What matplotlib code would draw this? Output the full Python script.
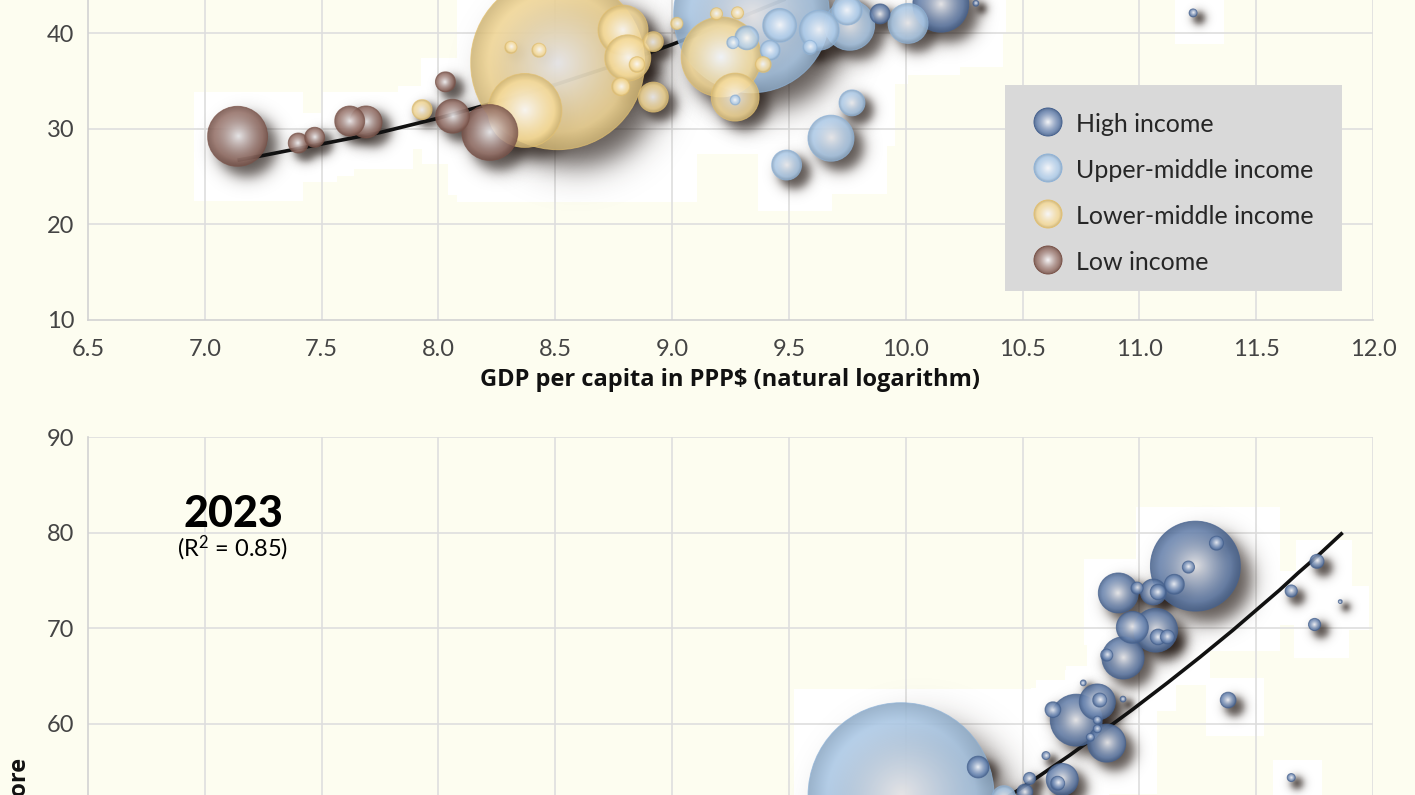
import numpy as np
import matplotlib
matplotlib.use("Agg")
import matplotlib.pyplot as plt
from matplotlib.patches import Ellipse, Circle, Rectangle

# ---- data --------------------------------------------------------------
# top panel: x = ln GDP per capita (PPP$), y = score, pop = bubble size (millions)
top_low_x = [7.14, 7.40, 7.47, 7.62, 7.69, 8.03, 8.06, 8.22]
top_low_y = [29.2, 28.5, 29.1, 30.8, 30.7, 34.9, 31.3, 29.6]
top_low_pop = [144, 16, 16, 36, 41, 16, 46, 125]

top_lmid_x = [8.51, 8.37, 7.93, 8.31, 8.43, 8.79, 8.81, 8.92, 8.85, 8.78, 8.92, 9.02,
              9.21, 9.27, 9.39, 9.19, 9.28]
top_lmid_y = [36.9, 31.9, 32.0, 38.5, 38.2, 40.3, 37.4, 39.1, 36.7, 34.4, 33.3, 41.0,
              37.5, 33.3, 36.7, 42.0, 42.1]
top_lmid_pop = [1211, 219, 16, 6, 8, 100, 85, 16, 10, 13, 36, 6, 256, 92, 10, 6, 6]

top_umid_x = [9.34, 9.49, 9.68, 9.77, 9.46, 9.63, 9.75, 9.59, 9.32, 9.42, 9.26, 9.76,
              10.01, 9.27]
top_umid_y = [41.9, 26.2, 29.0, 32.7, 40.8, 40.3, 42.4, 38.5, 39.5, 38.2, 39.0, 40.8,
              41.0, 33.0]
top_umid_pop = [973, 36, 85, 27, 46, 64, 36, 8, 23, 16, 6, 100, 64, 4]

top_high_x = [9.89, 10.15, 10.30, 11.23]
top_high_y = [42.0, 43.0, 43.1, 42.1]
top_high_pop = [16, 125, 1.4, 2.6]

top_trend_x = [7.14, 7.25, 7.5, 7.75, 8.0, 8.25, 8.5, 8.75, 9.0, 9.25, 9.5, 10.0]
top_trend_y = [26.7, 27.2, 28.4, 29.6, 31.1, 32.8, 34.6, 36.6, 38.8, 41.2, 43.7, 49.3]

# bottom panel (2023)
bot_high_x = [11.24, 11.33, 11.21, 11.15, 10.91, 10.99, 11.06, 11.08, 10.97, 11.07,
              11.08, 11.12, 10.93, 10.86, 10.73, 10.63, 10.82, 10.83, 10.76, 10.93,
              10.86, 10.82, 10.82, 10.79, 10.60, 10.67, 10.65, 10.53, 10.51, 11.38,
              11.76, 11.65, 11.86, 11.75, 11.65, 10.31]
bot_high_y = [76.5, 78.9, 76.4, 74.6, 73.7, 74.2, 73.8, 73.8, 70.1, 69.8,
              69.1, 69.1, 66.9, 67.2, 60.4, 61.5, 62.3, 62.5, 64.3, 62.6,
              58.0, 60.4, 59.5, 58.6, 56.7, 54.2, 53.8, 54.3, 52.9, 62.5,
              77.0, 73.9, 72.8, 70.4, 54.4, 55.5]
bot_high_pop = [324, 8, 6, 16, 64, 6, 27, 10, 41, 77,
                10, 8, 71, 6, 108, 10, 52, 8, 1.4, 1.4,
                58, 2.6, 2.6, 2.6, 2.6, 41, 8, 6, 10, 10,
                8, 6, 0.64, 6, 2.6, 19]

bot_umid_x = [9.98, 10.42]
bot_umid_y = [52.5, 52.3]
bot_umid_pop = [1384, 23]

bot_trend_x = [10.30, 10.47, 10.55, 10.70, 10.83, 10.97, 11.12, 11.26, 11.40, 11.50,
               11.60, 11.68, 11.76, 11.87]
bot_trend_y = [50.3, 52.9, 54.2, 56.7, 59.0, 61.5, 64.3, 67.0, 69.8, 71.9,
               74.0, 75.8, 77.5, 80.0]

groups = ["High income", "Upper-middle income", "Lower-middle income", "Low income"]
x_ticks = np.arange(6.5, 12.01, 0.5)
y_grid = np.arange(10, 91, 10)
top_yticks = [10, 20, 30, 40]       # labels that fall inside the picture
bot_yticks = [60, 70, 80, 90]

# ---- style --------------------------------------------------------------
BG = "#fdfdf0"
GRID = "#dedede"
EDGE = {"High income": (0.34, 0.46, 0.65),
        "Upper-middle income": (0.65, 0.78, 0.91),
        "Lower-middle income": (0.96, 0.84, 0.55),
        "Low income": (0.55, 0.39, 0.35)}
RIM = {"High income": "#45618f", "Upper-middle income": "#8fb3d8",
       "Lower-middle income": "#e3c070", "Low income": "#7a5248"}
plt.rcParams["mathtext.default"] = "regular"

W, H = 1415, 795
fig = plt.figure(figsize=(W / 100, H / 100), dpi=100, facecolor=BG)


def px_box(left, top, width, height):
    return [left / W, 1 - (top + height) / H, width / W, height / H]


def sphere_img(edge, n=96):
    u = np.linspace(-1, 1, n)
    X, Y = np.meshgrid(u, u)
    t = np.clip(np.sqrt(X ** 2 + Y ** 2), 0, 1)
    w = np.clip(1 - t, 0, 1) ** 1.4
    edge = np.array(edge)
    hi = np.array([0.99, 0.99, 1.0])
    rgb = edge * (1 - w[..., None]) + hi * w[..., None]
    rim = np.clip((t - 0.8) / 0.2, 0, 1)
    rgb = rgb * (1 - 0.15 * rim[..., None])
    a = np.full(t.shape, 0.86)
    return np.dstack([rgb, a])


def shadow_img(rn, sn, n=64, amp=0.75):
    u = np.linspace(-1, 1, n)
    X, Y = np.meshgrid(u, u)
    d = np.sqrt(X ** 2 + Y ** 2)
    a = amp * 0.5 * (1 - np.tanh((d - rn) / sn))
    img = np.zeros((n, n, 4))
    img[..., 0], img[..., 1], img[..., 2] = 0.16, 0.12, 0.10
    img[..., 3] = a
    return img


SPHERE = {k: sphere_img(EDGE[k]) for k in groups}


def setup(ax, yticks, show_x):
    ax.set_facecolor(BG)
    ax.set_xlim(6.5, 12.0)
    ax.set_ylim(10, 90)
    if show_x:
        ax.set_xticks(x_ticks)
        ax.set_xticklabels([f"{v:.1f}" for v in x_ticks])
    else:
        ax.set_xticks([])
    ax.set_yticks(yticks)
    ax.tick_params(length=0, labelsize=17, colors="#444444")
    ax.tick_params(axis="x", pad=14)
    ax.tick_params(axis="y", pad=10)
    for lbl in ax.get_xticklabels() + ax.get_yticklabels():
        lbl.set_family(["Lato", "DejaVu Sans"])
    for s in ["top", "right"]:
        ax.spines[s].set_visible(False)
    for s in ["left", "bottom"]:
        ax.spines[s].set_color("#d2d2d2")
        ax.spines[s].set_linewidth(1.2)
    for xv in x_ticks[1:]:
        ax.axvline(xv, color=GRID, lw=1.2, zorder=0.8)
    for yv in y_grid[1:]:
        ax.axhline(yv, color=GRID, lw=1.2, zorder=0.8)


def draw_panel(ax, series, tx, ty, ppx, ppy):
    items = []
    for key, xs, ys, ps in series:
        for x, y, p in zip(xs, ys, ps):
            items.append((x, y, 2.5 * np.sqrt(p), key))
    # white halo boxes (shadow bounding boxes in the original art)
    for x, y, r, k in items:
        lo, hi = r + 14, 1.3 * r + 26
        ax.add_patch(Rectangle((x - lo / ppx, y - hi / ppy), (lo + hi) / ppx, (lo + hi) / ppy,
                               fc="white", ec="none", zorder=0.5))
    # drop shadows
    for x, y, r, k in items:
        off = 0.16 * r + 5
        R = 0.95 * r + 2
        s = 0.16 * r + 4
        half = R + 3 * s
        cx, cy = x + off / ppx, y - off / ppy
        ax.imshow(shadow_img(R / half, s / half),
                  extent=[cx - half / ppx, cx + half / ppx, cy - half / ppy, cy + half / ppy],
                  origin="lower", aspect="auto", interpolation="bilinear", zorder=1)
    ax.plot(tx, ty, color="#111111", lw=2.6, zorder=1.5, solid_capstyle="butt")
    for x, y, r, k in sorted(items, key=lambda it: -it[2]):
        im = ax.imshow(SPHERE[k], extent=[x - r / ppx, x + r / ppx, y - r / ppy, y + r / ppy],
                       origin="lower", aspect="auto", interpolation="bilinear", zorder=2)
        e = Ellipse((x, y), 2 * r / ppx, 2 * r / ppy, transform=ax.transData,
                    fc="none", ec=RIM[k], lw=0.7, alpha=0.7, zorder=2)
        ax.add_patch(e)
        im.set_clip_path(e)
    ax.set_xlim(6.5, 12.0)
    ax.set_ylim(10, 90)


ax_h = 765.3
ppx, ppy = 1285 / 5.5, ax_h / 80

ax_top = fig.add_axes(px_box(88, 320 - ax_h, 1285, ax_h))
setup(ax_top, top_yticks, True)
draw_panel(ax_top, [("Low income", top_low_x, top_low_y, top_low_pop),
                    ("Lower-middle income", top_lmid_x, top_lmid_y, top_lmid_pop),
                    ("Upper-middle income", top_umid_x, top_umid_y, top_umid_pop),
                    ("High income", top_high_x, top_high_y, top_high_pop)],
           top_trend_x, top_trend_y, ppx, ppy)

ax_bot = fig.add_axes(px_box(88, 437, 1285, ax_h))
setup(ax_bot, bot_yticks, False)
draw_panel(ax_bot, [("Upper-middle income", bot_umid_x, bot_umid_y, bot_umid_pop),
                    ("High income", bot_high_x, bot_high_y, bot_high_pop)],
           bot_trend_x, bot_trend_y, ppx, ppy)

fig.text(730 / W, 1 - 380 / H, "GDP per capita in PPP$ (natural logarithm)",
         ha="center", va="center", fontsize=17, fontweight="bold",
         family=["Open Sans", "DejaVu Sans"], color="#111111")
fig.text(20 / W, 1 - 758 / H, "Index score", rotation=90, ha="center", va="top",
         fontsize=17, fontweight="bold", family=["Open Sans", "DejaVu Sans"], color="#111111")
fig.text(233 / W, 1 - 527 / H, "2023", ha="center", va="baseline", fontsize=31,
         fontweight="black", family=["Lato", "DejaVu Sans"], color="black")
fig.text(233 / W, 1 - 556 / H, "(R$^2$ = 0.85)", ha="center", va="baseline", fontsize=17,
         family=["Lato", "DejaVu Sans"], color="black")

# legend panel
lax = fig.add_axes(px_box(1005, 85, 337, 206))
lax.set_facecolor("#d9d9d9")
lax.set_xticks([])
lax.set_yticks([])
for s in lax.spines.values():
    s.set_visible(False)
for i, k in enumerate(groups):
    cy = 37 + 46 * i
    im = lax.imshow(SPHERE[k], extent=[43 - 14, 43 + 14, cy + 14, cy - 14],
                    origin="lower", aspect="auto", interpolation="bilinear")
    c = Circle((43, cy), 14, transform=lax.transData, fc="none", ec=RIM[k], lw=0.7)
    lax.add_patch(c)
    im.set_clip_path(c)
    lax.text(71, cy + 2, k, va="center", ha="left", fontsize=18,
             family=["Lato", "DejaVu Sans"], color="#262626")
lax.set_xlim(0, 337)
lax.set_ylim(206, 0)

fig.savefig("out.png", dpi=100, facecolor=BG)
